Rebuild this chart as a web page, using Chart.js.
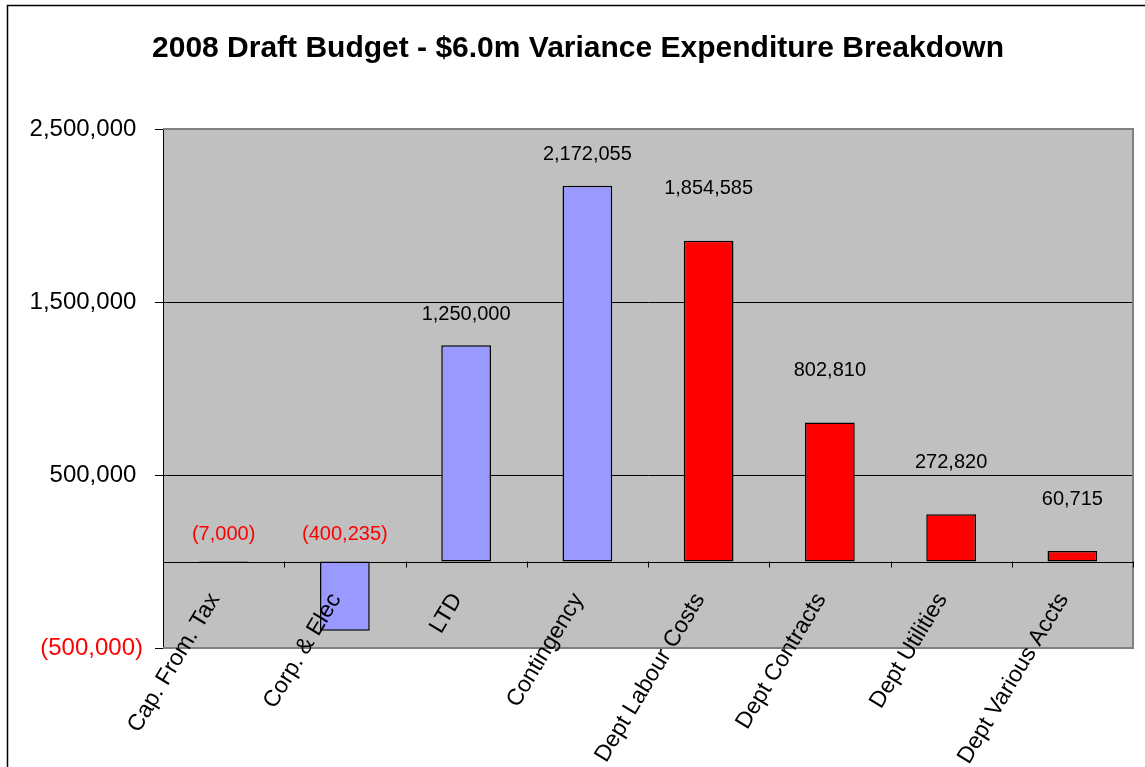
<!DOCTYPE html>
<html>
<head>
<meta charset="utf-8">
<title>2008 Draft Budget - Variance Expenditure Breakdown</title>
<script src="https://cdn.jsdelivr.net/npm/chart.js@4/dist/chart.umd.min.js"></script>
<style>
    body { margin: 0; background: #fff; }
    canvas { display: block; }
</style>
</head>
<body>
<canvas id="budget-chart" width="1145" height="767"></canvas>
<script>
const categories = [
    "Cap. From. Tax",
    "Corp. & Elec",
    "LTD",
    "Contingency",
    "Dept Labour Costs",
    "Dept Contracts",
    "Dept Utilities",
    "Dept Various Accts",
];
const corporateValues = [-7000, -400235, 1250000, 2172055, null, null, null, null];
const departmentValues = [null, null, null, null, 1854585, 802810, 272820, 60715];
const yTicks = [-500000, 500000, 1500000, 2500000];

const FONT = '"Liberation Sans", Arial, sans-serif';

function formatNumber(v) {
    const s = Math.abs(v).toLocaleString("en-US");
    return v < 0 ? "(" + s + ")" : s;
}

// grey plot area, zero axis with category ticks, plot border, frame and title
const plotDecor = {
    id: "plotDecor",
    beforeDraw(chart) {
        const { ctx, chartArea: a } = chart;
        ctx.save();
        ctx.fillStyle = "#ffffff";
        ctx.fillRect(0, 0, chart.width, chart.height);
        ctx.fillStyle = "#c0c0c0";
        ctx.fillRect(a.left, a.top, a.right - a.left, a.bottom - a.top);
        ctx.restore();
    },
    beforeDatasetsDraw(chart) {
        const { ctx, chartArea: a, scales } = chart;
        const y0 = scales.y.getPixelForValue(0);
        const step = (a.right - a.left) / categories.length;
        ctx.save();
        ctx.strokeStyle = "#808080";
        ctx.lineWidth = 2;
        ctx.beginPath();
        ctx.moveTo(a.left, a.top);
        ctx.lineTo(a.right, a.top);
        ctx.lineTo(a.right, a.bottom);
        ctx.lineTo(a.left, a.bottom);
        ctx.stroke();

        ctx.strokeStyle = "#000";
        ctx.lineWidth = 1;
        ctx.beginPath();
        ctx.moveTo(a.left, Math.round(y0) + 0.5);
        ctx.lineTo(a.right, Math.round(y0) + 0.5);
        for (let i = 0; i <= categories.length; i++) {
            const x = Math.round(a.left + i * step) + 0.5;
            ctx.moveTo(x, y0);
            ctx.lineTo(x, y0 + 6);
        }
        ctx.stroke();
        ctx.restore();
    },
    afterDatasetsDraw(chart) {
        const { ctx, scales } = chart;
        const y0 = scales.y.getPixelForValue(0);
        ctx.save();

        // value labels
        ctx.font = "20px " + FONT;
        ctx.textAlign = "center";
        ctx.textBaseline = "middle";
        chart.data.datasets.forEach((ds, di) => {
            const meta = chart.getDatasetMeta(di);
            meta.data.forEach((bar, i) => {
                const v = ds.data[i];
                if (v === null) return;
                const y = v >= 0 ? bar.y - ds.labelGap : y0 - 27;
                ctx.fillStyle = v < 0 ? "#ff0000" : "#000";
                ctx.fillText(formatNumber(v), bar.x, y);
            });
        });

        // rotated category labels hanging from the zero axis
        ctx.font = "23px " + FONT;
        ctx.fillStyle = "#000";
        ctx.textAlign = "right";
        categories.forEach((label, i) => {
            const x = scales.x.getPixelForValue(i) - 9;
            ctx.save();
            ctx.translate(x, y0 + 34);
            ctx.rotate((-59 * Math.PI) / 180);
            ctx.fillText(label, 0, 0);
            ctx.restore();
        });
        ctx.restore();
    },
    afterDraw(chart) {
        const { ctx } = chart;
        ctx.save();
        ctx.strokeStyle = "#000";
        ctx.lineWidth = 1.5;
        ctx.strokeRect(7.5, 5.5, chart.width + 20, chart.height + 20);
        ctx.font = "bold 30px " + FONT;
        ctx.fillStyle = "#000";
        ctx.textAlign = "center";
        ctx.textBaseline = "middle";
        ctx.fillText("2008 Draft Budget - $6.0m Variance Expenditure Breakdown", 578, 49);
        ctx.restore();
    },
};

/**
 * @type import('chart.js').ChartConfiguration
 */
const budgetChartConfig = {
    type: "bar",
    data: {
        labels: categories,
        datasets: [
            {
                label: "Corporate",
                data: corporateValues,
                backgroundColor: "#9999ff",
                borderColor: "#000",
                borderWidth: 1.5,
                borderSkipped: false,
                labelGap: 31,
            },
            {
                label: "Departmental",
                data: departmentValues,
                backgroundColor: "#ff0000",
                borderColor: "#000",
                borderWidth: 1.5,
                borderSkipped: false,
                labelGap: 52,
            },
        ],
    },
    options: {
        responsive: false,
        animation: false,
        devicePixelRatio: 1,
        grouped: false,
        barPercentage: 0.41,
        categoryPercentage: 1,
        layout: {
            padding: { left: 7, top: 129, right: 12, bottom: 119 },
        },
        plugins: {
            legend: { display: false },
            title: { display: false },
            tooltip: { enabled: false },
        },
        scales: {
            x: {
                display: false,
                offset: true,
            },
            y: {
                min: -500000,
                max: 2500000,
                afterFit(scale) {
                    scale.width = 156;
                },
                afterBuildTicks(scale) {
                    scale.ticks = yTicks.map((value) => ({ value }));
                },
                border: { color: "#000", width: 1 },
                grid: {
                    color: (c) =>
                        c.tick && (c.tick.value === 2500000 || c.tick.value === -500000)
                            ? "#808080"
                            : "#000",
                    tickColor: "#000",
                    tickLength: 8,
                    lineWidth: 1,
                },
                ticks: {
                    padding: 12,
                    font: { family: FONT, size: 24 },
                    color: (c) => (c.tick.value < 0 ? "#ff0000" : "#000"),
                    callback: (v) => (v < 0 ? formatNumber(v) : formatNumber(v) + " "),
                },
            },
        },
    },
    plugins: [plotDecor],
};

new Chart(document.getElementById("budget-chart"), budgetChartConfig);
</script>
</body>
</html>
